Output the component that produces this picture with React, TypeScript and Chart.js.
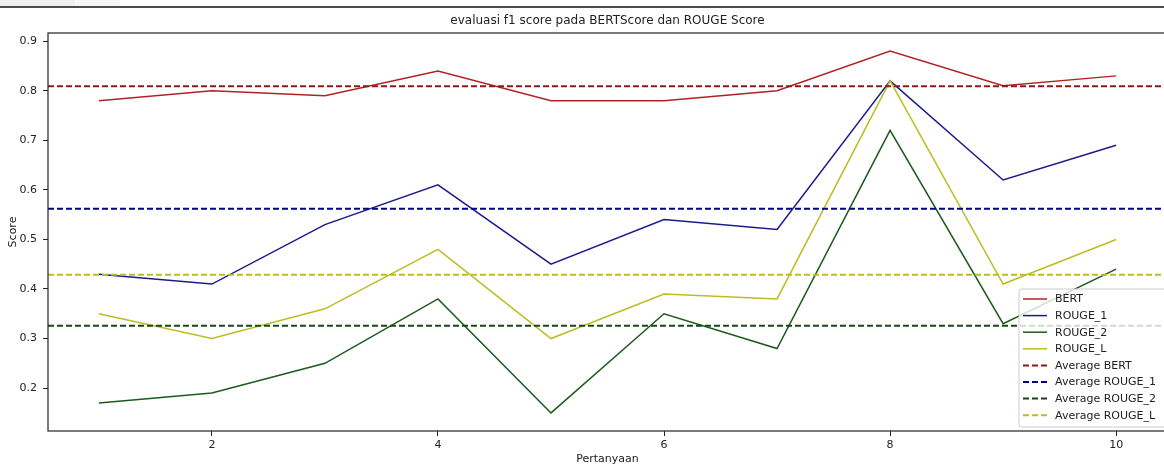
import React, { useEffect, useRef } from "react";
import { Chart, registerables } from "chart.js";

Chart.register(...registerables);

const QUESTIONS = [1, 2, 3, 4, 5, 6, 7, 8, 9, 10];
const BERT = [0.78, 0.8, 0.79, 0.84, 0.78, 0.78, 0.8, 0.88, 0.81, 0.83];
const ROUGE_1 = [0.43, 0.41, 0.53, 0.61, 0.45, 0.54, 0.52, 0.82, 0.62, 0.69];
const ROUGE_2 = [0.17, 0.19, 0.25, 0.38, 0.15, 0.35, 0.28, 0.72, 0.33, 0.44];
const ROUGE_L = [0.35, 0.3, 0.36, 0.48, 0.3, 0.39, 0.38, 0.82, 0.41, 0.5];
const AVG_BERT = 0.809;
const AVG_ROUGE_1 = 0.562;
const AVG_ROUGE_2 = 0.326;
const AVG_ROUGE_L = 0.429;
const X_TICKS = [2, 4, 6, 8, 10];
const Y_TICKS = [0.2, 0.3, 0.4, 0.5, 0.6, 0.7, 0.8, 0.9];
const X_MIN = 0.55;
const X_MAX = 10.45;
const Y_MIN = 0.1135;
const Y_MAX = 0.9165;
const TITLE = "evaluasi f1 score pada BERTScore dan ROUGE Score";
const X_LABEL = "Pertanyaan";
const Y_LABEL = "Score";

const FONT = "'DejaVu Sans', sans-serif";
const CANVAS_W = 1168;

const pts = (vals: number[]) => QUESTIONS.map((q, i) => ({ x: q, y: vals[i] }));
const hline = (v: number) => [
  { x: X_MIN, y: v },
  { x: X_MAX, y: v },
];

const decorPlugin = {
  id: "decor",
  beforeDraw(chart: any) {
    const ctx = chart.ctx;
    ctx.save();
    ctx.fillStyle = "#ffffff";
    ctx.fillRect(0, 0, chart.width, chart.height);
    ctx.fillStyle = "#efeff1";
    ctx.fillRect(0, 0, 75, 6);
    ctx.fillStyle = "#f6f6f7";
    ctx.fillRect(75, 0, 45, 6);
    ctx.strokeStyle = "#111";
    ctx.lineWidth = 1.5;
    ctx.beginPath();
    ctx.moveTo(0, 7);
    ctx.lineTo(chart.width, 7);
    ctx.stroke();
    ctx.restore();
  },
  afterDraw(chart: any) {
    const ctx = chart.ctx;
    const a = chart.chartArea;
    ctx.save();
    ctx.strokeStyle = "#222";
    ctx.lineWidth = 1.2;
    ctx.strokeRect(a.left, a.top, a.right - a.left, a.bottom - a.top);
    ctx.fillStyle = "#222";
    ctx.font = `12px ${FONT}`;
    ctx.textAlign = "center";
    ctx.textBaseline = "middle";
    ctx.fillText(TITLE, (a.left + a.right) / 2, 21);
    ctx.font = `11px ${FONT}`;
    ctx.fillText(X_LABEL, (a.left + a.right) / 2, 459);
    ctx.save();
    ctx.translate(13, (a.top + a.bottom) / 2);
    ctx.rotate(-Math.PI / 2);
    ctx.fillText(Y_LABEL, 0, 0);
    ctx.restore();
    const lx = 1019;
    const ly = 289;
    const lw = 170;
    const lh = 138;
    const r = 3;
    ctx.beginPath();
    ctx.moveTo(lx + r, ly);
    ctx.lineTo(lx + lw - r, ly);
    ctx.arcTo(lx + lw, ly, lx + lw, ly + r, r);
    ctx.lineTo(lx + lw, ly + lh - r);
    ctx.arcTo(lx + lw, ly + lh, lx + lw - r, ly + lh, r);
    ctx.lineTo(lx + r, ly + lh);
    ctx.arcTo(lx, ly + lh, lx, ly + lh - r, r);
    ctx.lineTo(lx, ly + r);
    ctx.arcTo(lx, ly, lx + r, ly, r);
    ctx.closePath();
    ctx.fillStyle = "rgba(255,255,255,0.8)";
    ctx.fill();
    ctx.strokeStyle = "#cccccc";
    ctx.lineWidth = 1;
    ctx.stroke();
    ctx.font = `11px ${FONT}`;
    ctx.textAlign = "left";
    ctx.textBaseline = "middle";
    chart.data.datasets.forEach((ds: any, i: number) => {
      const y = 299 + i * 16.6;
      ctx.beginPath();
      ctx.setLineDash(ds.borderDash || []);
      ctx.strokeStyle = ds.borderColor;
      ctx.lineWidth = ds.borderWidth;
      ctx.moveTo(1023, y);
      ctx.lineTo(1047, y);
      ctx.stroke();
      ctx.setLineDash([]);
      ctx.fillStyle = "#222";
      ctx.fillText(ds.label, 1055, y + 0.5);
    });
    ctx.restore();
  },
};

export default function App() {
  const ref = useRef<HTMLCanvasElement | null>(null);
  useEffect(() => {
    if (!ref.current) return;
    const solid = (label: string, vals: number[], color: string, order: number) => ({
      label,
      data: pts(vals),
      borderColor: color,
      backgroundColor: color,
      borderWidth: 1.5,
      pointRadius: 0,
      tension: 0,
      order,
    });
    const dashed = (label: string, v: number, color: string, order: number) => ({
      label,
      data: hline(v),
      borderColor: color,
      backgroundColor: color,
      borderWidth: 2,
      borderDash: [6, 3],
      pointRadius: 0,
      tension: 0,
      order,
    });
    const chart = new Chart(ref.current, {
      type: "line",
      data: {
        datasets: [
          solid("BERT", BERT, "#b22222", 8),
          solid("ROUGE_1", ROUGE_1, "#1a1a8c", 7),
          solid("ROUGE_2", ROUGE_2, "#1d5a1d", 6),
          solid("ROUGE_L", ROUGE_L, "#bcbd22", 5),
          dashed("Average BERT", AVG_BERT, "#8b1a1a", 4),
          dashed("Average ROUGE_1", AVG_ROUGE_1, "#00008b", 3),
          dashed("Average ROUGE_2", AVG_ROUGE_2, "#164716", 2),
          dashed("Average ROUGE_L", AVG_ROUGE_L, "#bcbd22", 1),
        ],
      } as any,
      options: {
        animation: false,
        responsive: false,
        devicePixelRatio: 1,
        layout: { padding: { top: 33, right: 1, left: 0, bottom: 0 } },
        plugins: {
          legend: { display: false },
          tooltip: { enabled: false },
          title: { display: false },
        },
        scales: {
          x: {
            type: "linear",
            min: X_MIN,
            max: X_MAX,
            afterBuildTicks: (s: any) => {
              s.ticks = X_TICKS.map((v) => ({ value: v }));
            },
            afterFit: (s: any) => {
              s.height = 35;
            },
            grid: {
              drawOnChartArea: false,
              drawTicks: true,
              tickLength: 5,
              tickColor: "#222",
            },
            border: { display: false },
            ticks: {
              font: { family: FONT, size: 11 },
              color: "#222",
              padding: 3,
              maxRotation: 0,
              callback: (v: any) => String(v),
            },
          },
          y: {
            type: "linear",
            min: Y_MIN,
            max: Y_MAX,
            afterBuildTicks: (s: any) => {
              s.ticks = Y_TICKS.map((v) => ({ value: v }));
            },
            afterFit: (s: any) => {
              s.width = 48;
            },
            grid: {
              drawOnChartArea: false,
              drawTicks: true,
              tickLength: 5,
              tickColor: "#222",
            },
            border: { display: false },
            ticks: {
              font: { family: FONT, size: 11 },
              color: "#222",
              padding: 6,
              callback: (v: any) => Number(v).toFixed(1),
            },
          },
        },
      } as any,
      plugins: [decorPlugin],
    });
    return () => chart.destroy();
  }, []);
  return (
    <div
      style={{
        position: "absolute",
        left: 0,
        top: 0,
        width: 1164,
        height: 466,
        overflow: "hidden",
        background: "#fff",
      }}
    >
      <canvas ref={ref} width={CANVAS_W} height={466} style={{ display: "block" }} />
    </div>
  );
}
